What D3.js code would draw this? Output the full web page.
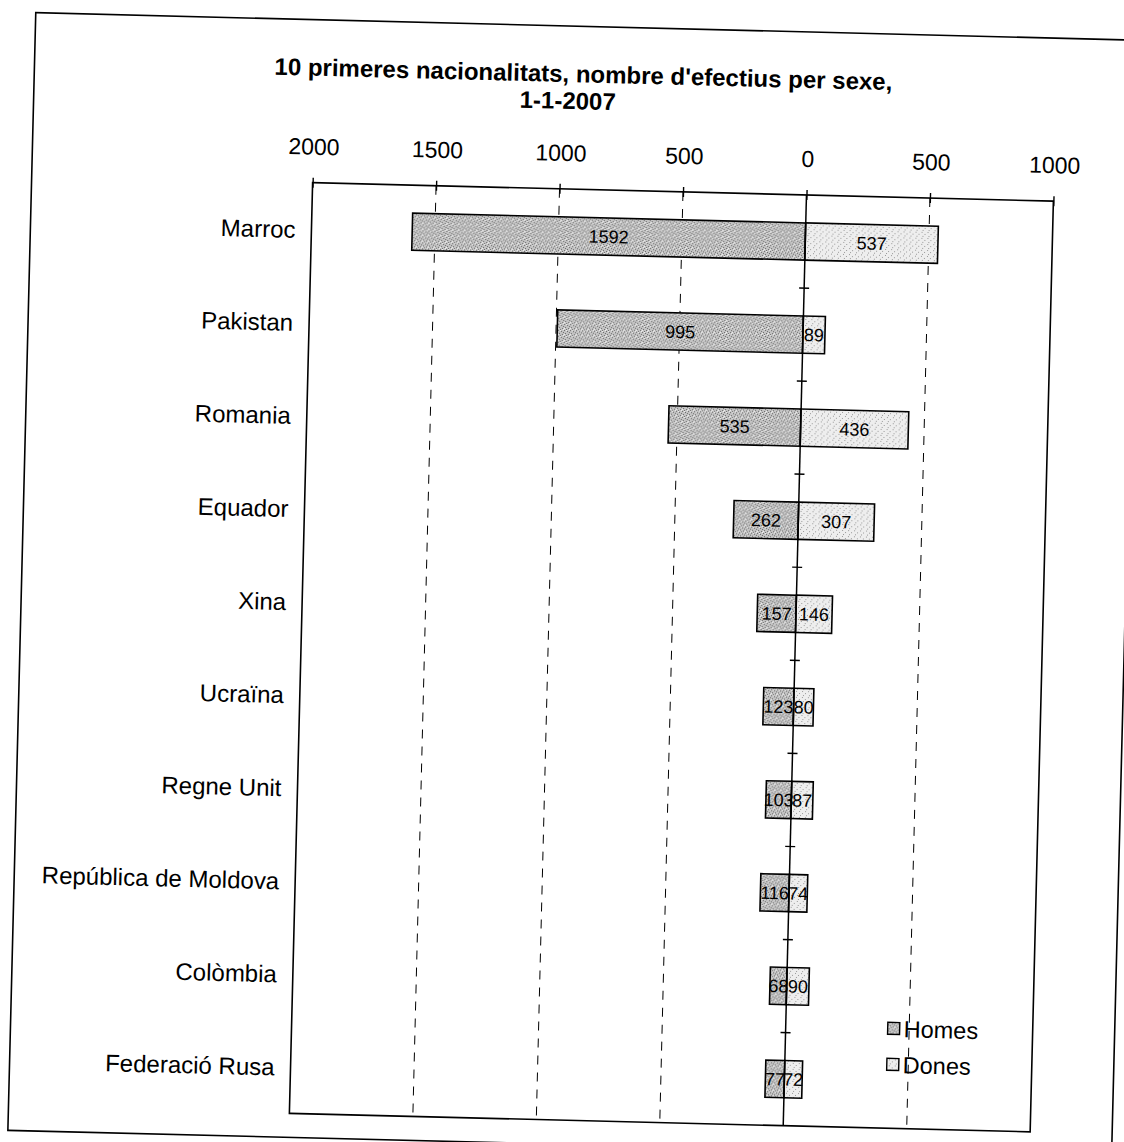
<!DOCTYPE html>
<html><head><meta charset="utf-8">
<script src="https://cdn.jsdelivr.net/npm/d3@7"></script>
<style>html,body{margin:0;padding:0;background:#fff;}svg{display:block;}</style>
</head><body>
<svg id="chart" width="1124" height="1142"></svg>
<script>
const categories = ["Marroc","Pakistan","Romania","Equador","Xina","Ucraïna","Regne Unit","República de Moldova","Colòmbia","Federació Rusa"];
const homes = [1592, 995, 535, 262, 157, 123, 103, 116, 68, 77];
const dones = [537, 89, 436, 307, 146, 80, 87, 74, 90, 72];
const seriesNames = ["Homes","Dones"];
const tickValues = [-2000,-1500,-1000,-500,0,500,1000];
const tickLabels = ["2000","1500","1000","500","0","500","1000"];
const gridValues = [-1500,-1000,-500,500];
const titleLines = ["10 primeres nacionalitats, nombre d'efectius per sexe,", "1-1-2007"];

(function(){
const svg = d3.select("#chart");
const font = "'Liberation Sans', Arial, sans-serif";
const defs = svg.append("defs");
const pH = defs.append("pattern").attr("id","pHomes").attr("patternUnits","userSpaceOnUse").attr("width",6).attr("height",6);
pH.append("rect").attr("width",6).attr("height",6).attr("fill","#c4c4c4");
[[0,0],[3,1],[1,3],[4,4],[2,5],[5,2]].forEach(([px,py])=>pH.append("rect").attr("x",px).attr("y",py).attr("width",1).attr("height",1).attr("fill","#6a6a6a"));
[[2,0],[5,5],[0,4]].forEach(([px,py])=>pH.append("rect").attr("x",px).attr("y",py).attr("width",1).attr("height",1).attr("fill","#f2f2f2"));
const pD = defs.append("pattern").attr("id","pDones").attr("patternUnits","userSpaceOnUse").attr("width",6).attr("height",6);
pD.append("rect").attr("width",6).attr("height",6).attr("fill","#eeeeee");
[[1,1],[4,3],[2,5]].forEach(([px,py])=>pD.append("rect").attr("x",px).attr("y",py).attr("width",1).attr("height",1).attr("fill","#999"));

const g = svg.append("g").attr("transform","rotate(1.43,562,571)");

g.append("rect").attr("x",22).attr("y",26).attr("width",1104).attr("height",1118)
  .attr("fill","none").attr("stroke","#000").attr("stroke-width",1.6);

const pLeft = 303, pRight = 1044, pTop = 189, pBottom = 1120;
const x = d3.scaleLinear().domain([-2000,1000]).range([pLeft,pRight]);
const y = d3.scaleBand().domain(categories).range([pTop,pBottom]).paddingInner(0.6).paddingOuter(0.3);
const yStep = d3.scaleBand().domain(categories).range([pTop,pBottom]);

g.append("text").attr("x",571).attr("y",82).attr("text-anchor","middle")
  .attr("font-family",font).attr("font-weight","bold").attr("font-size",24).text(titleLines[0]);
g.append("text").attr("x",556).attr("y",109).attr("text-anchor","middle")
  .attr("font-family",font).attr("font-weight","bold").attr("font-size",24).text(titleLines[1]);

g.append("g").selectAll("line").data(gridValues).join("line")
  .attr("x1",d=>x(d)).attr("x2",d=>x(d)).attr("y1",pTop).attr("y2",pBottom)
  .attr("stroke","#000").attr("stroke-width",1).attr("stroke-dasharray","9,8");

const rows = categories.map((c,i)=>({c, h:homes[i], d:dones[i]}));
const bars = g.append("g");
bars.selectAll("rect.h").data(rows).join("rect").attr("class","h")
  .attr("x",d=>x(-d.h)).attr("width",d=>x(0)-x(-d.h)).attr("y",d=>y(d.c)).attr("height",y.bandwidth())
  .attr("fill","url(#pHomes)").attr("stroke","#000").attr("stroke-width",1.6);
bars.selectAll("rect.d").data(rows).join("rect").attr("class","d")
  .attr("x",x(0)).attr("width",d=>x(d.d)-x(0)).attr("y",d=>y(d.c)).attr("height",y.bandwidth())
  .attr("fill","url(#pDones)").attr("stroke","#000").attr("stroke-width",1.6);

const vl = g.append("g").attr("font-family",font).attr("font-size",18).attr("text-anchor","middle");
vl.selectAll("text.h").data(rows).join("text").attr("class","h")
  .attr("x",d=>x(-d.h/2)).attr("y",d=>y(d.c)+y.bandwidth()/2+6.5).text(d=>d.h);
vl.selectAll("text.d").data(rows).join("text").attr("class","d")
  .attr("x",d=>x(d.d/2)).attr("y",d=>y(d.c)+y.bandwidth()/2+6.5).text(d=>d.d);

g.append("rect").attr("x",pLeft).attr("y",pTop).attr("width",pRight-pLeft).attr("height",pBottom-pTop)
  .attr("fill","none").attr("stroke","#000").attr("stroke-width",1.6);

const xAxis = d3.axisTop(x).tickValues(tickValues).tickFormat((d,i)=>tickLabels[i]).tickSize(5).tickPadding(23);
const ax = g.append("g").attr("transform",`translate(0,${pTop})`).call(xAxis);
ax.select(".domain").remove();
ax.selectAll(".tick line").attr("y1",5).attr("y2",-5).attr("stroke","#000").attr("stroke-width",1.4);
ax.selectAll(".tick text").attr("font-family",font).attr("font-size",23).attr("fill","#000");

g.append("line").attr("x1",x(0)).attr("x2",x(0)).attr("y1",pTop).attr("y2",pBottom).attr("stroke","#000").attr("stroke-width",1.5);
const bounds = categories.slice(1).map(c=>yStep(c));
g.append("g").selectAll("line").data(bounds).join("line")
  .attr("x1",x(0)-5).attr("x2",x(0)+5).attr("y1",d=>d).attr("y2",d=>d).attr("stroke","#000").attr("stroke-width",1.4);

g.append("g").attr("font-family",font).attr("font-size",24).attr("text-anchor","end")
  .selectAll("text").data(categories).join("text")
  .attr("x",pLeft-16).attr("y",d=>yStep(d)+yStep.bandwidth()/2+9).text(d=>d);

const lg = g.append("g").attr("font-family",font).attr("font-size",23.5);
seriesNames.forEach((s,i)=>{
  const ly = 1020 + i*36;
  lg.append("rect").attr("x",899).attr("y",ly-6).attr("width",12).attr("height",12)
    .attr("fill",i===0?"url(#pHomes)":"url(#pDones)").attr("stroke","#000").attr("stroke-width",1.4);
  lg.append("text").attr("x",915).attr("y",ly+8.5).text(s);
});
})();
</script>
</body></html>
